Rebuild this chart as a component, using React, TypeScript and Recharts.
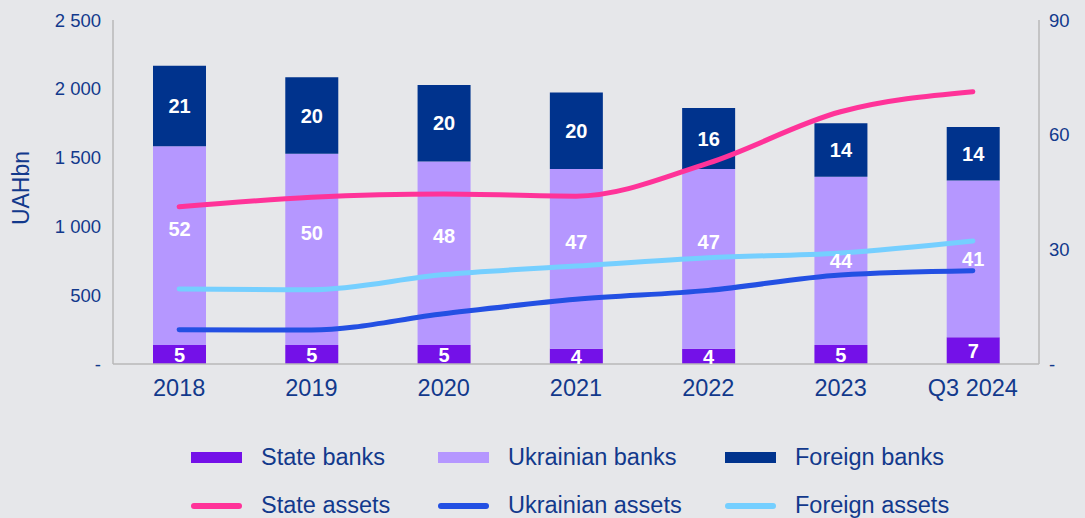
import {
  ComposedChart,
  Bar,
  Line,
  XAxis,
  YAxis,
  Legend,
  LabelList,
} from "recharts";

const years = ["2018", "2019", "2020", "2021", "2022", "2023", "Q3 2024"];
// number of banks (right axis)
const stateBanks = [5, 5, 5, 4, 4, 5, 7];
const ukrainianBanks = [52, 50, 48, 47, 47, 44, 41];
const foreignBanks = [21, 20, 20, 20, 16, 14, 14];
// assets, UAHbn (left axis)
const stateAssets = [1143, 1211, 1235, 1220, 1460, 1833, 1979];
const ukrainianAssets = [249, 247, 365, 470, 535, 647, 678];
const foreignAssets = [545, 540, 650, 712, 772, 807, 894];

const leftTicks = [0, 500, 1000, 1500, 2000, 2500];
const rightTicks = [0, 30, 60, 90];

const data = years.map((year, i) => ({
  year,
  stateBanks: stateBanks[i],
  ukrainianBanks: ukrainianBanks[i],
  foreignBanks: foreignBanks[i],
  stateAssets: stateAssets[i],
  ukrainianAssets: ukrainianAssets[i],
  foreignAssets: foreignAssets[i],
}));

const FONT = '"Liberation Sans", Arial, sans-serif';
const NAVY = "#12398c";
const AXIS = "#b9b9b9";

const colors = {
  stateBanks: "#7411e8",
  ukrainianBanks: "#b597ff",
  foreignBanks: "#00338d",
  stateAssets: "#ff3399",
  ukrainianAssets: "#2350e3",
  foreignAssets: "#75cfff",
};

const fmtLeft = (v: number) =>
  v === 0 ? "-" : String(v).replace(/\B(?=(\d{3})+(?!\d))/g, " ");
const fmtRight = (v: number) => (v === 0 ? "-" : String(v));

const barLabel = (shift: (i: number) => number) => (props: any) => {
  const { x, y, width, height, value, index } = props;
  return (
    <text
      x={x + width / 2}
      y={y + height / 2 + shift(index)}
      dy="0.36em"
      textAnchor="middle"
      fill="#fff"
      fontFamily={FONT}
      fontWeight="bold"
      fontSize={20}
    >
      {value}
    </text>
  );
};

const legendItems = [
  { name: "State banks", color: colors.stateBanks, kind: "bar" },
  { name: "Ukrainian banks", color: colors.ukrainianBanks, kind: "bar" },
  { name: "Foreign banks", color: colors.foreignBanks, kind: "bar" },
  { name: "State assets", color: colors.stateAssets, kind: "line" },
  { name: "Ukrainian assets", color: colors.ukrainianAssets, kind: "line" },
  { name: "Foreign assets", color: colors.foreignAssets, kind: "line" },
];
const colX = [191, 438, 725];
const rowY = [53, 101];

function LegendBox() {
  return (
    <div style={{ position: "relative", width: 1085, height: 113 }}>
      {legendItems.map((it, i) => {
        const left = colX[i % 3];
        const top = rowY[Math.floor(i / 3)];
        return (
          <div key={it.name}>
            <div
              style={{
                position: "absolute",
                left,
                top: top - (it.kind === "bar" ? 6 : 3),
                width: 51,
                height: it.kind === "bar" ? 11 : 6,
                borderRadius: it.kind === "bar" ? 0 : 3,
                background: it.color,
              }}
            />
            <div
              style={{
                position: "absolute",
                left: left + 70,
                top: top - 15,
                lineHeight: "28px",
                fontSize: 23.5,
                fontFamily: FONT,
                color: NAVY,
                whiteSpace: "nowrap",
              }}
            >
              {it.name}
            </div>
          </div>
        );
      })}
    </div>
  );
}

export default function App() {
  return (
    <div
      style={{
        position: "absolute",
        left: 0,
        top: 0,
        width: 1085,
        height: 518,
        background: "#e6e7ea",
      }}
    >
      <ComposedChart
        width={1085}
        height={518}
        data={data}
        margin={{ top: 20, right: 0, bottom: 0, left: 0 }}
      >
        <XAxis
          dataKey="year"
          axisLine={{ stroke: AXIS, strokeWidth: 1.5 }}
          tickLine={false}
          tickMargin={9}
          height={41}
          tick={{ fill: NAVY, fontSize: 23.5, fontFamily: FONT }}
        />
        <YAxis
          yAxisId="left"
          orientation="left"
          width={113}
          domain={[0, 2500]}
          ticks={leftTicks}
          tickFormatter={fmtLeft}
          axisLine={{ stroke: AXIS, strokeWidth: 1.5 }}
          tickLine={false}
          tickMargin={6}
          tick={{ fill: NAVY, fontSize: 18.5, fontFamily: FONT }}
        />
        <YAxis
          yAxisId="right"
          orientation="right"
          width={46}
          domain={[0, 90]}
          ticks={rightTicks}
          tickFormatter={fmtRight}
          axisLine={{ stroke: AXIS, strokeWidth: 1.5 }}
          tickLine={false}
          tickMargin={4}
          tick={{ fill: NAVY, fontSize: 18.5, fontFamily: FONT }}
        />
        <text
          x={21}
          y={188}
          transform="rotate(-90 21 188)"
          dy="0.36em"
          textAnchor="middle"
          fill={NAVY}
          fontSize={23}
          fontFamily={FONT}
        >
          UAHbn
        </text>
        <Bar
          yAxisId="right"
          dataKey="stateBanks"
          stackId="b"
          barSize={53}
          fill={colors.stateBanks}
          isAnimationActive={false}
        >
          <LabelList dataKey="stateBanks" content={barLabel(() => 0)} />
        </Bar>
        <Bar
          yAxisId="right"
          dataKey="ukrainianBanks"
          stackId="b"
          barSize={53}
          fill={colors.ukrainianBanks}
          isAnimationActive={false}
        >
          <LabelList
            dataKey="ukrainianBanks"
            content={barLabel((i) => (i < 5 ? -17 : 0))}
          />
        </Bar>
        <Bar
          yAxisId="right"
          dataKey="foreignBanks"
          stackId="b"
          barSize={53}
          fill={colors.foreignBanks}
          isAnimationActive={false}
        >
          <LabelList dataKey="foreignBanks" content={barLabel(() => 0)} />
        </Bar>
        <Line
          yAxisId="left"
          type="monotone"
          dataKey="stateAssets"
          stroke={colors.stateAssets}
          strokeWidth={5}
          strokeLinecap="round"
          dot={false}
          isAnimationActive={false}
        />
        <Line
          yAxisId="left"
          type="monotone"
          dataKey="ukrainianAssets"
          stroke={colors.ukrainianAssets}
          strokeWidth={5}
          strokeLinecap="round"
          dot={false}
          isAnimationActive={false}
        />
        <Line
          yAxisId="left"
          type="monotone"
          dataKey="foreignAssets"
          stroke={colors.foreignAssets}
          strokeWidth={5}
          strokeLinecap="round"
          dot={false}
          isAnimationActive={false}
        />
        <Legend
          verticalAlign="bottom"
          height={113}
          wrapperStyle={{ left: 0, width: 1085 }}
          content={() => <LegendBox />}
        />
      </ComposedChart>
    </div>
  );
}
